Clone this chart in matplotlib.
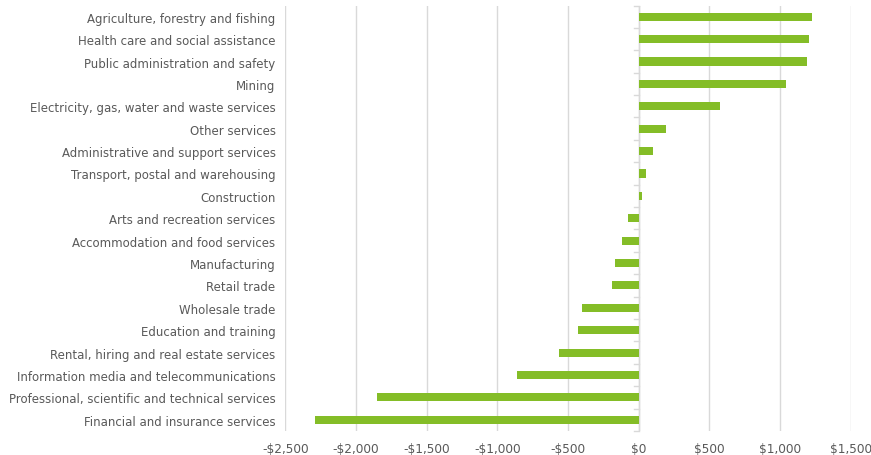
import matplotlib.pyplot as plt
import matplotlib.ticker as mticker
import numpy as np

# industries, top to bottom as in the chart
industries = [
    "Agriculture, forestry and fishing",
    "Health care and social assistance",
    "Public administration and safety",
    "Mining",
    "Electricity, gas, water and waste services",
    "Other services",
    "Administrative and support services",
    "Transport, postal and warehousing",
    "Construction",
    "Arts and recreation services",
    "Accommodation and food services",
    "Manufacturing",
    "Retail trade",
    "Wholesale trade",
    "Education and training",
    "Rental, hiring and real estate services",
    "Information media and telecommunications",
    "Professional, scientific and technical services",
    "Financial and insurance services",
]
change = [1229, 1208, 1194, 1045, 575, 196, 101, 54, 21, -78, -117, -169,
          -191, -400, -426, -562, -862, -1852, -2288]

x_ticks = [-2500, -2000, -1500, -1000, -500, 0, 500, 1000, 1500]

bar_col = "#84bd27"
grid_col = "#d9d9d9"
text_col = "#595959"

fig = plt.figure(figsize=(8.71, 4.56), dpi=100)
ax = fig.add_axes([0.3276, 0.0526, 0.6491, 0.9331])

y = np.arange(len(industries))
ax.barh(y, change, height=0.36, color=bar_col, zorder=3)

ax.set_ylim(len(industries) - 0.5, -0.5)
ax.set_xlim(-2500, 1500)
ax.set_xticks(x_ticks)
ax.xaxis.set_major_formatter(mticker.FuncFormatter(
    lambda v, p: ("-$" if v < 0 else "$") + f"{abs(int(v)):,}"))
ax.grid(axis="x", color=grid_col, linewidth=1, zorder=0)

# category labels sit left of the plot area
ax.set_yticks(y)
ax.set_yticklabels(industries)
ax.tick_params(axis="y", length=0, pad=7, labelsize=8.5, labelcolor=text_col)
ax.tick_params(axis="x", length=0, pad=8, labelsize=8.7, labelcolor=text_col)

for s in ax.spines.values():
    s.set_visible(False)

# small tick marks on the zero line between categories
ax.axvline(0, color=grid_col, linewidth=1, zorder=2)
for b in np.arange(-0.5, len(industries), 1.0):
    ax.plot([-30, 0], [b, b], color=grid_col, linewidth=1, zorder=2,
            clip_on=False)

fig.savefig("out.png", dpi=100)
